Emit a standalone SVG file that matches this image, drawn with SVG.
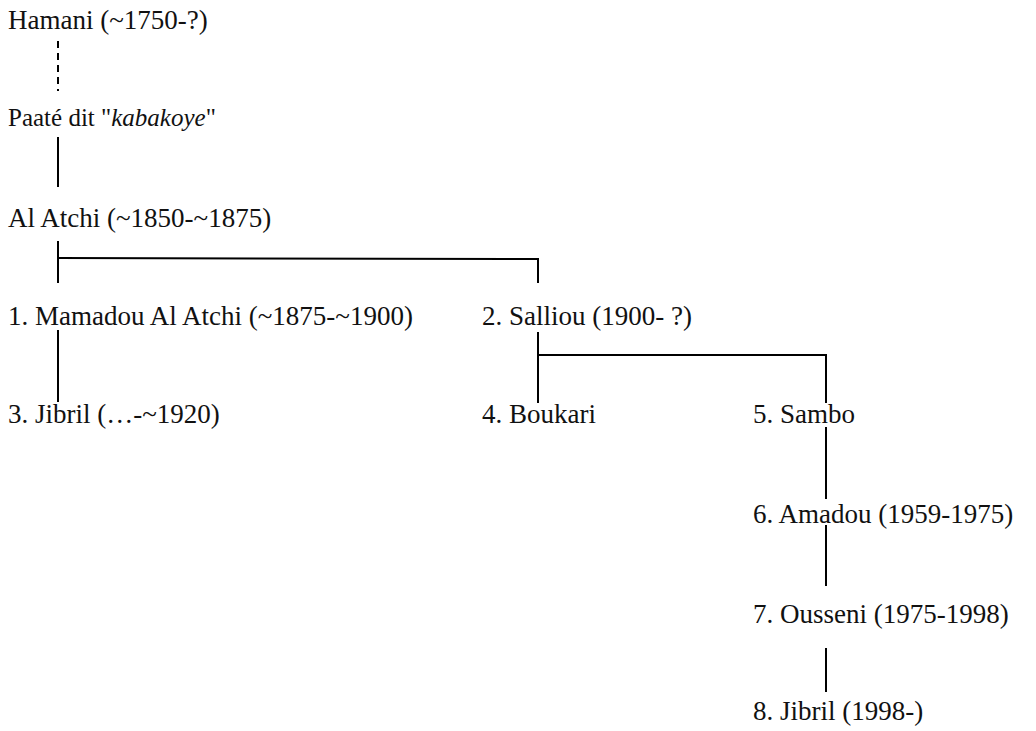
<svg xmlns="http://www.w3.org/2000/svg" width="1036" height="731" viewBox="0 0 1036 731">
<style>
text{font-family:"Liberation Serif","DejaVu Serif",serif;font-size:27px;fill:#111}
.c{stroke:#000;stroke-width:2;fill:none}
.d{stroke-dasharray:7 5}
</style>
<rect width="1036" height="731" fill="#fff"/>
<g id="connectors">
<line class="c d" x1="58" y1="41" x2="58" y2="91"/>
<line class="c" x1="58" y1="137" x2="58" y2="187"/>
<polyline class="c" points="58,241 58,283"/>
<polyline class="c" points="58,258 538,259 538,283"/>
<line class="c" x1="58" y1="330" x2="58" y2="402"/>
<line class="c" x1="538" y1="332" x2="538" y2="403"/>
<polyline class="c" points="538,355 826,355 826,403"/>
<line class="c" x1="826" y1="427" x2="826" y2="499"/>
<line class="c" x1="826" y1="525" x2="826" y2="586"/>
<line class="c" x1="826" y1="648" x2="826" y2="692"/>
</g>
<g id="n-hamani"><text x="8" y="29">Hamani (~1750-?)</text></g>
<g id="n-paate"><text x="8" y="126" style="font-size:25px">Paaté dit "<tspan font-style="italic">kabakoye</tspan>"</text></g>
<g id="n-alatchi"><text x="8" y="227">Al Atchi (~1850-~1875)</text></g>
<g id="n-mamadou"><text x="8" y="325">1. Mamadou Al Atchi (~1875-~1900)</text></g>
<g id="n-salliou"><text x="482" y="325">2. Salliou (1900- ?)</text></g>
<g id="n-jibril3"><text x="8" y="423">3. Jibril (…-~1920)</text></g>
<g id="n-boukari"><text x="482" y="423">4. Boukari</text></g>
<g id="n-sambo"><text x="753" y="423">5. Sambo</text></g>
<g id="n-amadou"><text x="753" y="523">6. Amadou (1959-1975)</text></g>
<g id="n-ousseni"><text x="753" y="623">7. Ousseni (1975-1998)</text></g>
<g id="n-jibril8"><text x="753" y="720">8. Jibril (1998-)</text></g>
</svg>
